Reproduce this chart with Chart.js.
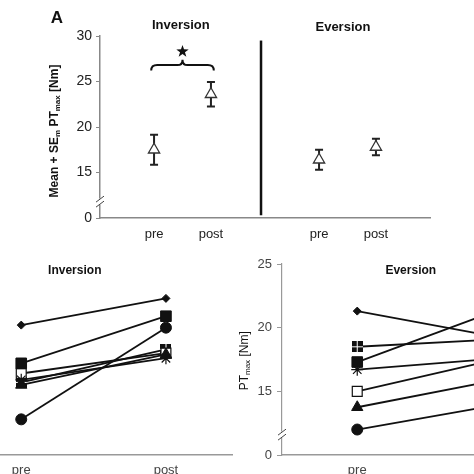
<!DOCTYPE html>
<html>
<head>
<meta charset="utf-8">
<script src="https://cdn.jsdelivr.net/npm/chart.js@4.4.0/dist/chart.umd.min.js"></script>
<style>
html, body { margin: 0; padding: 0; background: #fff; }
body { width: 474px; height: 474px; position: relative; overflow: hidden; }
canvas { position: absolute; }
</style>
</head>
<body>
<canvas id="meanChart" width="474" height="245" style="left:0;top:0"></canvas>
<canvas id="invChart" width="340" height="224" style="left:-99px;top:250px"></canvas>
<canvas id="evChart" width="340" height="224" style="left:237px;top:250px"></canvas>
<script>
// panel A: group means with SE
const conditions = ['pre', 'post', 'pre', 'post'];
const meanPT = [17.5, 23.6, 16.4, 17.8];
const semPT = [1.65, 1.35, 1.1, 0.9];

// individual subjects, pre -> post
const phases = ['pre', 'post'];
const invDiamond = [20.2, 22.3];
const invSquare = [17.2, 20.9];
const invOpenSq = [16.4, 18.0];
const invTriangle = [15.5, 17.9];
const invStar = [15.9, 17.6];
const invFourSq = [15.7, 18.3];
const invCircle = [12.8, 20.0];

const evDiamond = [21.3, 19.2];
const evFourSq = [18.5, 19.1];
const evSquare = [17.3, 21.5];
const evStar = [16.7, 17.6];
const evOpenSq = [15.0, 17.6];
const evTriangle = [13.75, 15.95];
const evCircle = [12.0, 14.0];

const FONT = "'Liberation Sans', Arial, sans-serif";
Chart.defaults.font.family = FONT;

// x position of each condition on the linear axis of panel A
const xPos = [1, 2, 3.9, 4.9];

function fourSquare(size) {
    const c = document.createElement('canvas');
    c.width = size; c.height = size;
    const g = c.getContext('2d');
    g.fillStyle = '#111';
    g.fillRect(0, 0, size, size);
    g.fillStyle = '#fff';
    const h = Math.floor(size / 2);
    g.fillRect(h, 0, 1, size);
    g.fillRect(0, h, size, 1);
    return c;
}
const fourSq = fourSquare(11);

const marker = {
    diamond: { pointStyle: 'rectRot', pointRadius: 4, pointBackgroundColor: '#111', pointBorderColor: '#111', pointBorderWidth: 1 },
    square: { pointStyle: 'rect', pointRadius: 7.5, pointBackgroundColor: '#111', pointBorderColor: '#111', pointBorderWidth: 1 },
    openSq: { pointStyle: 'rect', pointRadius: 7, pointBackgroundColor: '#fff', pointBorderColor: '#111', pointBorderWidth: 1.2 },
    triangle: { pointStyle: 'triangle', pointRadius: 6.5, pointBackgroundColor: '#111', pointBorderColor: '#111', pointBorderWidth: 1 },
    star: { pointStyle: 'star', pointRadius: 6, pointBackgroundColor: '#111', pointBorderColor: '#111', pointBorderWidth: 1.2 },
    fourSq: { pointStyle: fourSq, pointRadius: 6, pointBorderWidth: 0 },
    circle: { pointStyle: 'circle', pointRadius: 5.5, pointBackgroundColor: '#111', pointBorderColor: '#111', pointBorderWidth: 1 }
};

function drawRich(ctx, cx, cy, parts) {
    ctx.save();
    ctx.translate(cx, cy);
    ctx.rotate(-Math.PI / 2);
    let total = 0;
    parts.forEach(p => { ctx.font = p.font; p.w = ctx.measureText(p.t).width; total += p.w; });
    let x = -total / 2;
    ctx.textBaseline = 'middle';
    ctx.textAlign = 'left';
    ctx.fillStyle = '#111';
    parts.forEach(p => { ctx.font = p.font; ctx.fillText(p.t, x, p.dy); x += p.w; });
    ctx.restore();
}

function axisBreak(ctx, ax, py) {
    ctx.save();
    ctx.fillStyle = '#fff';
    ctx.fillRect(ax - 2, py - 3, 4, 6);
    ctx.strokeStyle = '#444';
    ctx.lineWidth = 1;
    [-2.5, 2.5].forEach(d => {
        ctx.beginPath();
        ctx.moveTo(ax - 4, py + d + 3);
        ctx.lineTo(ax + 4, py + d - 3);
        ctx.stroke();
    });
    ctx.restore();
}

const meanDecor = {
    id: 'meanDecor',
    beforeDatasetsDraw(chart) {
        const { ctx, scales: { x, y } } = chart;
        ctx.save();
        ctx.strokeStyle = '#222';
        ctx.lineWidth = 2;
        meanPT.forEach((m, i) => {
            const px = x.getPixelForValue(xPos[i]);
            const top = y.getPixelForValue(m + semPT[i]);
            const bot = y.getPixelForValue(m - semPT[i]);
            ctx.beginPath();
            ctx.moveTo(px, top); ctx.lineTo(px, bot);
            ctx.moveTo(px - 4, top); ctx.lineTo(px + 4, top);
            ctx.moveTo(px - 4, bot); ctx.lineTo(px + 4, bot);
            ctx.stroke();
        });
        ctx.restore();
    },
    afterDraw(chart) {
        const { ctx, chartArea, scales: { x, y } } = chart;
        ctx.save();
        // divider between inversion and eversion
        ctx.strokeStyle = '#111';
        ctx.lineWidth = 2.5;
        ctx.beginPath();
        ctx.moveTo(x.getPixelForValue(2.88), y.getPixelForValue(29.5));
        ctx.lineTo(x.getPixelForValue(2.88), y.getPixelForValue(10.3));
        ctx.stroke();

        // brace with significance star
        const x1 = x.getPixelForValue(xPos[0] - 0.05);
        const x2 = x.getPixelForValue(xPos[1] + 0.05);
        const mid = (x1 + x2) / 2;
        const yEnd = y.getPixelForValue(26.2);
        const yLine = y.getPixelForValue(26.8);
        const yTip = y.getPixelForValue(27.4);
        ctx.lineWidth = 2;
        ctx.beginPath();
        ctx.moveTo(x1, yEnd);
        ctx.quadraticCurveTo(x1, yLine, x1 + 6, yLine);
        ctx.lineTo(mid - 5, yLine);
        ctx.quadraticCurveTo(mid, yLine, mid, yTip);
        ctx.quadraticCurveTo(mid, yLine, mid + 5, yLine);
        ctx.lineTo(x2 - 6, yLine);
        ctx.quadraticCurveTo(x2, yLine, x2, yEnd);
        ctx.stroke();

        const sy = y.getPixelForValue(28.3);
        ctx.fillStyle = '#111';
        ctx.beginPath();
        for (let k = 0; k < 10; k++) {
            const r = k % 2 ? 2.6 : 6.5;
            const a = -Math.PI / 2 + k * Math.PI / 5;
            const px = mid + r * Math.cos(a), py = sy + r * Math.sin(a);
            k ? ctx.lineTo(px, py) : ctx.moveTo(px, py);
        }
        ctx.closePath();
        ctx.fill();

        // titles
        ctx.font = 'bold 13px ' + FONT;
        ctx.textAlign = 'center';
        ctx.textBaseline = 'middle';
        ctx.fillText('Inversion', x.getPixelForValue(1.47), chartArea.top - 11);
        ctx.fillText('Eversion', x.getPixelForValue(4.32), chartArea.top - 9);
        ctx.font = 'bold 17px ' + FONT;
        ctx.fillText('A', chartArea.left - 43, chartArea.top - 18);
        ctx.restore();

        axisBreak(ctx, chartArea.left, y.getPixelForValue(11.8));

        const b = 'bold 12px ' + FONT, s = 'bold 8px ' + FONT;
        drawRich(ctx, chartArea.left - 45, (chartArea.top + chartArea.bottom) / 2 + 4, [
            { t: 'Mean + SE', font: b, dy: 0 },
            { t: 'm', font: s, dy: 3 },
            { t: ' PT', font: b, dy: 0 },
            { t: 'max', font: s, dy: 3 },
            { t: ' [Nm]', font: b, dy: 0 }
        ]);
    }
};

new Chart(document.getElementById('meanChart'), {
    type: 'scatter',
    data: {
        datasets: [{
            data: meanPT.map((m, i) => ({ x: xPos[i], y: m })),
            pointStyle: 'triangle',
            pointRadius: 6.5,
            pointBackgroundColor: '#fff',
            pointBorderColor: '#333',
            pointBorderWidth: 1.3
        }]
    },
    options: {
        responsive: false,
        animation: false,
        layout: { padding: { top: 36, right: 44, left: 0, bottom: 0 } },
        plugins: { legend: { display: false }, tooltip: { enabled: false } },
        scales: {
            x: {
                type: 'linear',
                min: 0.05,
                max: 5.85,
                afterBuildTicks: s => { s.ticks = xPos.map(v => ({ value: v })); },
                ticks: {
                    callback: (v, i) => conditions[i],
                    autoSkip: false,
                    maxRotation: 0,
                    padding: 9,
                    color: '#222',
                    font: { size: 13 }
                },
                grid: { display: false, drawTicks: false },
                border: { color: '#888', width: 1.5 },
                afterFit: s => { s.height = 27; }
            },
            y: {
                min: 10,
                max: 30,
                ticks: {
                    stepSize: 5,
                    callback: v => v === 10 ? '0' : v,
                    padding: 4,
                    color: '#222',
                    font: { size: 14 }
                },
                grid: { drawOnChartArea: false, tickLength: 4, color: '#888' },
                border: { color: '#888', width: 1.5 },
                afterFit: s => { s.width = 100; }
            }
        }
    },
    plugins: [meanDecor]
});

function subjectChart(id, title, subjects, styles, showTitle) {
    const decor = {
        id: 'subjectDecor',
        afterDraw(chart) {
            const { ctx, chartArea, scales: { x, y } } = chart;
            ctx.save();
            ctx.font = 'bold 12px ' + FONT;
            ctx.fillStyle = '#111';
            ctx.textAlign = 'center';
            ctx.textBaseline = 'middle';
            ctx.fillText(title, x.getPixelForValue(1.37), y.getPixelForValue(24.5));
            ctx.restore();
            axisBreak(ctx, chartArea.left, y.getPixelForValue(11.6));
            if (showTitle) {
                const n = '12px ' + FONT, s = '8px ' + FONT;
                drawRich(ctx, chartArea.left - 37, y.getPixelForValue(17.4), [
                    { t: 'PT', font: n, dy: 0 },
                    { t: 'max', font: s, dy: 3 },
                    { t: ' [Nm]', font: n, dy: 0 }
                ]);
            }
        }
    };
    new Chart(document.getElementById(id), {
        type: 'scatter',
        data: {
            datasets: subjects.map((v, k) => Object.assign({
                data: v.map((val, i) => ({ x: i + 1, y: val })),
                showLine: true,
                borderColor: '#111',
                borderWidth: 1.8
            }, marker[styles[k]]))
        },
        options: {
            responsive: false,
            animation: false,
            layout: { padding: { top: 14, right: 6, left: 0, bottom: 0 } },
            plugins: { legend: { display: false }, tooltip: { enabled: false } },
            scales: {
                x: {
                    type: 'linear',
                    min: 0.48,
                    max: 2.46,
                    afterBuildTicks: s => { s.ticks = phases.map((p, i) => ({ value: i + 1 })); },
                    ticks: {
                        callback: (v, i) => phases[i],
                        autoSkip: false,
                        maxRotation: 0,
                        padding: 8,
                        color: '#444',
                        font: { size: 13 }
                    },
                    grid: { display: false, drawTicks: false },
                    border: { color: '#999', width: 1.5 },
                    afterFit: s => { s.height = 19; }
                },
                y: {
                    min: 10,
                    max: 25,
                    ticks: {
                        stepSize: 5,
                        callback: v => v === 10 ? '0' : v,
                        padding: 5,
                        color: '#444',
                        font: { size: 13 }
                    },
                    grid: { drawOnChartArea: false, tickLength: 5, color: '#999' },
                    border: { color: '#999', width: 1.2 },
                    afterFit: s => { s.width = 45; }
                }
            }
        },
        plugins: [decor]
    });
}

subjectChart('invChart', 'Inversion',
    [invDiamond, invSquare, invCircle, invTriangle, invStar, invOpenSq, invFourSq],
    ['diamond', 'square', 'circle', 'triangle', 'star', 'openSq', 'fourSq'], true);
subjectChart('evChart', 'Eversion',
    [evDiamond, evFourSq, evSquare, evStar, evOpenSq, evTriangle, evCircle],
    ['diamond', 'fourSq', 'square', 'star', 'openSq', 'triangle', 'circle'], true);
</script>
</body>
</html>
